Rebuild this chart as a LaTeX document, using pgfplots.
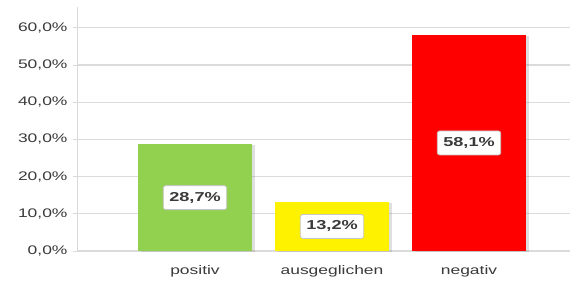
\documentclass[border=0pt]{standalone}
\usepackage{pgfplots}
\pgfplotsset{compat=1.18}
\usepackage{pgfplotstable}
\usepackage{fontspec}
\usetikzlibrary{shadows}
\newfontfamily\wf{Liberation Sans}[FakeStretch=1.4]
\definecolor{xgreen}{HTML}{92D050}
\definecolor{xtext}{HTML}{3A3A3A}
\pgfplotstableread{
x y
0 28.7
1 13.2
2 58.1
}\data
\begin{document}
\begin{tikzpicture}
\begin{axis}[
  name=ax,
  scale only axis,
  width=492bp, height=244bp,
  xmin=-0.854, xmax=2.737,
  ymin=0, ymax=65.6,
  axis lines*=left,
  x axis line style={draw=none},
  y axis line style={draw=gray!30, line width=1bp},
  xtick={0,1,2},
  xticklabels={positiv, ausgeglichen, negativ},
  xtick style={draw=none},
  ytick={0,10,...,60},
  ytick style={draw=gray!30, line width=1bp},
  tick align=outside,
  major tick length=5bp,
  ymajorgrids,
  major grid style={draw=gray!28, line width=1.2bp},
  /pgf/number format/assume math mode=true,
  yticklabel={\pgfmathprintnumber[fixed,fixed zerofill,precision=1,use comma]{\tick}\%},
  tick label style={font=\wf\fontsize{12.5}{14}\selectfont, text=xtext},
  xticklabel style={yshift=-6bp},
  yticklabel style={xshift=-2bp},
  clip=false,
]
\addplot[ybar, bar width=114bp, bar shift=0pt, fill=xgreen, draw=none,
  drop shadow={shadow xshift=2.5bp, shadow yshift=-1bp, opacity=0.25}]
  table[x=x, y=y, skip coords between index={1}{3}] {\data};
\addplot[ybar, bar width=114bp, bar shift=0pt, fill=yellow, draw=none,
  drop shadow={shadow xshift=2.5bp, shadow yshift=-1bp, opacity=0.25}]
  table[x=x, y=y, skip coords between index={0}{1}, skip coords between index={2}{3}] {\data};
\addplot[ybar, bar width=114bp, bar shift=0pt, fill=red, draw=none,
  drop shadow={shadow xshift=2.5bp, shadow yshift=-1bp, opacity=0.25}]
  table[x=x, y=y, skip coords between index={0}{2}] {\data};
\addplot[draw=none, mark=none,
  point meta=\thisrow{y},
  nodes near coords={\pgfmathprintnumber[fixed,fixed zerofill,precision=1,use comma]{\pgfplotspointmeta}\%},
  nodes near coords style={anchor=center, fill=white, draw=gray!45, line width=0.8bp,
    rounded corners=2.5bp, inner xsep=6bp, minimum height=24bp,
    font=\wf\bfseries\fontsize{13}{14}\selectfont, text=xtext}]
  table[x=x, y expr=\thisrow{y}/2] {\data};
\end{axis}
\pgfresetboundingbox
\path[use as bounding box] ([xshift=-78bp,yshift=-31bp]ax.south west) rectangle ++(570bp,282bp);
\end{tikzpicture}
\end{document}
